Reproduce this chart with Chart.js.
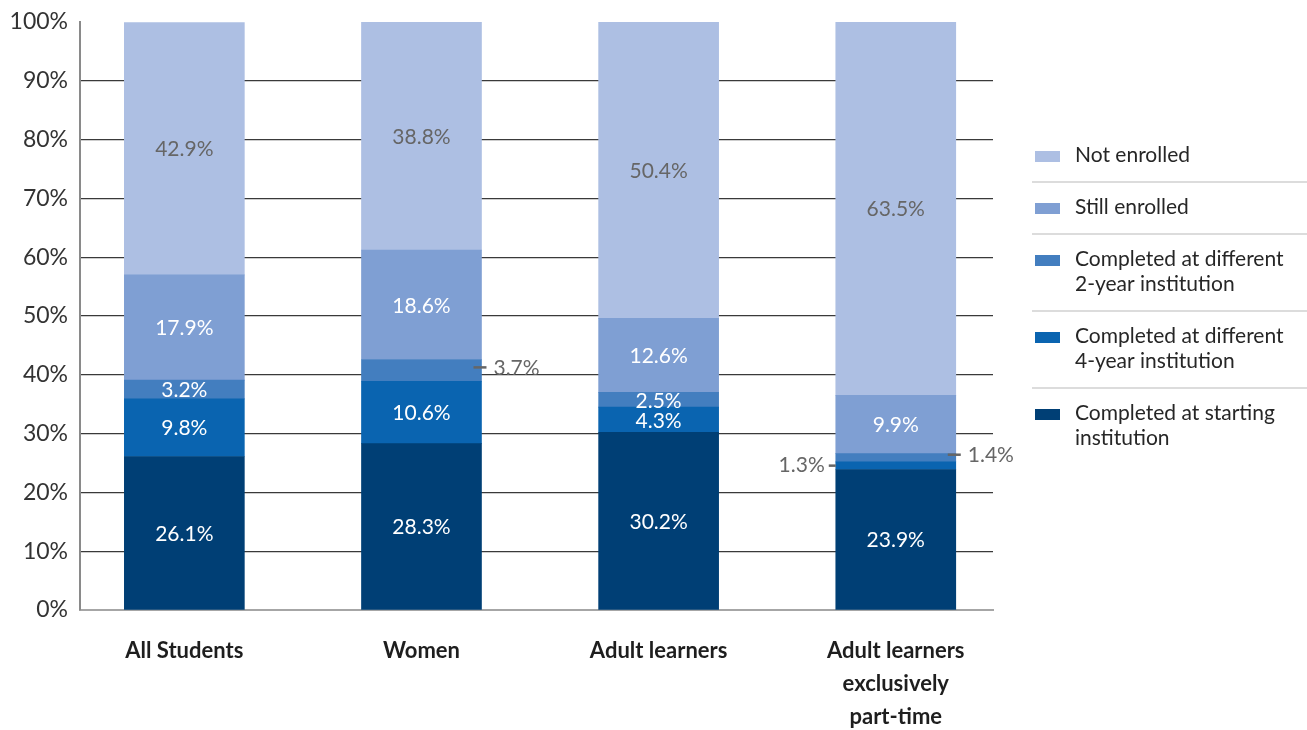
<!DOCTYPE html>
<html>
<head>
<meta charset="utf-8">
<script src="https://cdn.jsdelivr.net/npm/chart.js@4.4.1/dist/chart.umd.min.js"></script>
<style>
  html, body { margin: 0; padding: 0; background: #fff; }
  #wrap { width: 1307px; height: 730px; position: relative; }
</style>
</head>
<body>
<div id="wrap"><canvas id="grafico"></canvas></div>
<script>
const grupos = ['All Students', 'Women', 'Adult learners', 'Adult learners exclusively part-time'];
const rotulosGrupos = [['All Students'], ['Women'], ['Adult learners'], ['Adult learners', 'exclusively', 'part-time']];

const concluiuInicial = [26.1, 28.3, 30.2, 23.9];
const concluiu4anos = [9.8, 10.6, 4.3, 1.3];
const concluiu2anos = [3.2, 3.7, 2.5, 1.4];
const aindaMatriculado = [17.9, 18.6, 12.6, 9.9];
const naoMatriculado = [42.9, 38.8, 50.4, 63.5];

const yTicks = [0, 10, 20, 30, 40, 50, 60, 70, 80, 90, 100];

const series = [
    { label: 'Completed at starting institution', legenda: ['Completed at starting', 'institution'], data: concluiuInicial, cor: '#003f75', texto: '#ffffff' },
    { label: 'Completed at different 4-year institution', legenda: ['Completed at different', '4-year institution'], data: concluiu4anos, cor: '#0a64b0', texto: '#ffffff' },
    { label: 'Completed at different 2-year institution', legenda: ['Completed at different', '2-year institution'], data: concluiu2anos, cor: '#437ebf', texto: '#ffffff' },
    { label: 'Still enrolled', legenda: ['Still enrolled'], data: aindaMatriculado, cor: '#7f9fd3', texto: '#ffffff' },
    { label: 'Not enrolled', legenda: ['Not enrolled'], data: naoMatriculado, cor: '#adbfe3', texto: '#666666' }
];

// labels drawn outside the bar with a small leader line: "dataset-group": side
const rotulosFora = { '2-1': 'right', '1-3': 'left', '2-3': 'right' };

const FONTE = 'Lato, "Open Sans", sans-serif';

const pluginRotulos = {
    id: 'rotulos',
    afterDatasetsDraw(chart) {
        const ctx = chart.ctx;
        ctx.save();
        ctx.font = '21px ' + FONTE;
        ctx.textBaseline = 'middle';
        chart.data.datasets.forEach((ds, di) => {
            const meta = chart.getDatasetMeta(di);
            meta.data.forEach((bar, i) => {
                const valor = ds.data[i].y;
                const texto = valor.toFixed(1) + '%';
                const yc = (bar.y + bar.base) / 2;
                const lado = rotulosFora[di + '-' + i];
                const meia = bar.width / 2;
                if (lado) {
                    ctx.fillStyle = '#666666';
                    ctx.strokeStyle = '#666666';
                    ctx.lineWidth = 2.5;
                    ctx.beginPath();
                    if (lado === 'right') {
                        ctx.moveTo(bar.x + meia - 8, yc - 3);
                        ctx.lineTo(bar.x + meia + 5, yc - 3);
                        ctx.stroke();
                        ctx.textAlign = 'left';
                        ctx.fillText(texto, bar.x + meia + 12, yc - 2);
                    } else {
                        ctx.moveTo(bar.x - meia - 7, yc);
                        ctx.lineTo(bar.x - meia, yc);
                        ctx.stroke();
                        ctx.textAlign = 'right';
                        ctx.fillText(texto, bar.x - meia - 11, yc);
                    }
                } else {
                    ctx.fillStyle = ds.corTexto;
                    ctx.textAlign = 'center';
                    ctx.fillText(texto, bar.x, yc + 1);
                }
            });
        });
        ctx.restore();
    }
};

const pluginLegenda = {
    id: 'legendaLateral',
    afterDraw(chart) {
        const ctx = chart.ctx;
        const x0 = chart.chartArea.right + 42;
        ctx.save();
        ctx.font = '21px ' + FONTE;
        ctx.textBaseline = 'middle';
        ctx.textAlign = 'left';
        let y = 130;
        const itens = series.slice().reverse();
        itens.forEach((s, k) => {
            const primeira = y + 25;
            ctx.fillStyle = s.cor;
            ctx.fillRect(x0, primeira - 4, 25, 11);
            ctx.fillStyle = '#262626';
            s.legenda.forEach((linha, j) => {
                ctx.fillText(linha, x0 + 40, primeira + j * 25);
            });
            const ultima = primeira + (s.legenda.length - 1) * 25;
            if (k < itens.length - 1) {
                const sep = ultima + 27;
                ctx.strokeStyle = '#d0d0d0';
                ctx.lineWidth = 1.5;
                ctx.beginPath();
                ctx.moveTo(x0 - 3, sep);
                ctx.lineTo(chart.width, sep);
                ctx.stroke();
                y = sep;
            }
        });
        ctx.restore();
    }
};

const ctx = document.getElementById('grafico').getContext('2d');
new Chart(ctx, {
    type: 'bar',
    data: {
        datasets: series.map(s => ({
            label: s.label,
            data: s.data.map((v, i) => ({ x: i, y: v })),
            backgroundColor: s.cor,
            corTexto: s.texto,
            barThickness: 120,
            borderWidth: 0
        }))
    },
    options: {
        responsive: true,
        maintainAspectRatio: false,
        animation: false,
        layout: { padding: { top: 22, right: 314, left: 0, bottom: 0 } },
        plugins: {
            legend: { display: false },
            tooltip: { enabled: false }
        },
        scales: {
            x: {
                type: 'linear',
                stacked: true,
                offset: false,
                min: -0.44,
                max: 3.41,
                afterBuildTicks: (scale) => { scale.ticks = grupos.map((g, i) => ({ value: i })); },
                afterFit: (scale) => { scale.height = 120; scale.paddingLeft = 0; scale.paddingRight = 0; },
                grid: { display: false },
                border: { color: '#a6a6a6', width: 2 },
                ticks: {
                    autoSkip: false,
                    maxRotation: 0,
                    padding: 16,
                    color: '#1e1e1e',
                    font: { family: FONTE, size: 22, weight: 'bold', lineHeight: 1.5 },
                    callback: (v) => rotulosGrupos[v]
                }
            },
            y: {
                stacked: true,
                min: 0,
                max: 100,
                afterBuildTicks: (scale) => { scale.ticks = yTicks.map(v => ({ value: v })); },
                afterFit: (scale) => { scale.width = 80; scale.paddingTop = 0; scale.paddingBottom = 0; },
                grid: {
                    drawTicks: false,
                    color: (c) => (c.tick && (c.tick.value === 0 || c.tick.value === 100)) ? 'rgba(0,0,0,0)' : '#3a3a3a',
                    lineWidth: 1.2
                },
                border: { color: '#8a8a8a', width: 2 },
                ticks: {
                    padding: 12,
                    color: '#333333',
                    font: { family: FONTE, size: 23 },
                    callback: (v) => v + '%'
                }
            }
        }
    },
    plugins: [pluginRotulos, pluginLegenda]
});
</script>
</body>
</html>
